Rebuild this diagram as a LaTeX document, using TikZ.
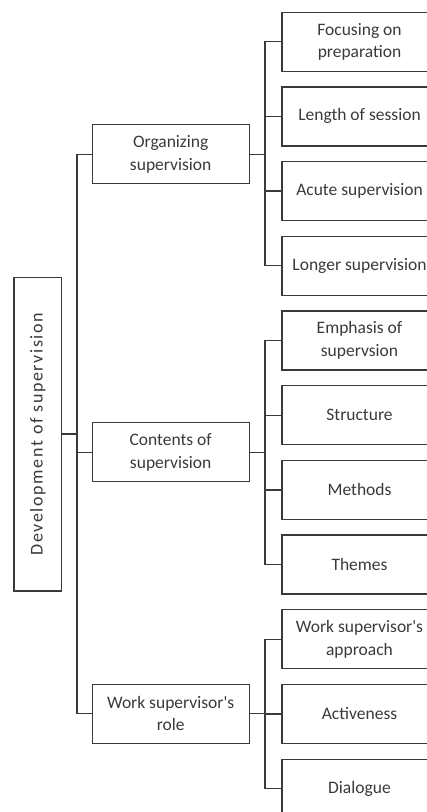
\documentclass[tikz,border=0pt]{standalone}
\usepackage{fontspec}
\setmainfont{Carlito}
\newfontfamily\spacedfont[LetterSpace=9]{Carlito}
\definecolor{ink}{HTML}{3A3A3A}
\begin{document}
\begin{tikzpicture}[x=1pt,y=-1pt,
  box/.style={draw=ink, line width=1.3pt, rectangle, inner sep=2pt, align=center, text=ink, font=\fontsize{17.5}{22.5}\selectfont},
  leafbox/.style={box, minimum width=155pt, minimum height=59pt},
  midbox/.style={box, minimum width=157pt, minimum height=59pt},
  conn/.style={draw=ink, line width=1.3pt}]
\useasboundingbox (0,0) rectangle (427,812);
\clip (0,0) rectangle (427,812);
% main
\node[box, minimum width=313.7pt, minimum height=47.7pt, rotate=90, font=\spacedfont\fontsize{18}{22}\selectfont] (main) at (37.8,434) {Development of supervision};
% mid
\node[midbox] (org) at (170.7,154.2) {Organizing\\supervision};
\node[midbox] (con) at (170.7,452.2) {Contents of\\supervision};
\node[midbox] (wrk) at (170.7,713.7) {Work supervisor\textquotesingle s\\role};
% leaves
\node[leafbox] (a1) at (359.5,41.7) {Focusing on\\preparation};
\node[leafbox] (a2) at (359.5,116.4) {Length of session};
\node[leafbox] (a3) at (359.5,191.1) {Acute supervision};
\node[leafbox] (a4) at (359.5,265.8) {Longer supervision};
\node[leafbox] (b1) at (359.5,340.5) {Emphasis of\\supervsion};
\node[leafbox] (b2) at (359.5,415.2) {Structure};
\node[leafbox] (b3) at (359.5,489.9) {Methods};
\node[leafbox] (b4) at (359.5,564.6) {Themes};
\node[leafbox] (c1) at (359.5,639.3) {Work supervisor\textquotesingle s\\approach};
\node[leafbox] (c2) at (359.5,714) {Activeness};
\node[leafbox] (c3) at (359.5,788.7) {Dialogue};
% spines
\coordinate (ls) at (77,0);
\coordinate (rs) at (265,0);
\draw[conn] (main.south) -- (main.south -| ls);
\draw[conn] (org.west) -- (org.west -| ls) -- (wrk.west -| ls) -- (wrk.west);
\draw[conn] (con.west) -- (con.west -| ls);
% group 1
\draw[conn] (org.east) -- (org.east -| rs);
\draw[conn] (a1.west) -- (a1.west -| rs) -- (a4.west -| rs) -- (a4.west);
\draw[conn] (a2.west) -- (a2.west -| rs);
\draw[conn] (a3.west) -- (a3.west -| rs);
% group 2
\draw[conn] (con.east) -- (con.east -| rs);
\draw[conn] (b1.west) -- (b1.west -| rs) -- (b4.west -| rs) -- (b4.west);
\draw[conn] (b2.west) -- (b2.west -| rs);
\draw[conn] (b3.west) -- (b3.west -| rs);
% group 3
\draw[conn] (wrk.east) -- (wrk.east -| rs);
\draw[conn] (c1.west) -- (c1.west -| rs) -- (c3.west -| rs) -- (c3.west);
\draw[conn] (c2.west) -- (c2.west -| rs);
\end{tikzpicture}
\end{document}
